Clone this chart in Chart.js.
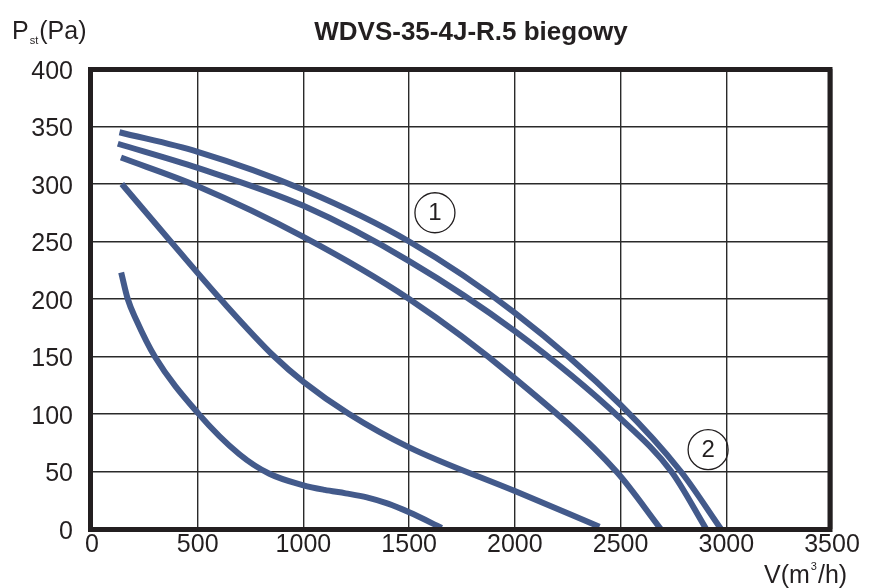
<!DOCTYPE html>
<html>
<head>
<meta charset="utf-8">
<title>WDVS-35-4J-R.5 biegowy</title>
<script src="https://cdn.jsdelivr.net/npm/chart.js"></script>
<style>
    body { margin: 0; background: #fff; }
    #chart { display: block; }
</style>
</head>
<body>
<canvas id="chart" width="869" height="588"></canvas>
<script>
// Fan curves (V in m3/h, Pst in Pa)
const speed1X = [130, 500, 1000, 1500, 2000, 2500, 2785, 2975];
const speed1Y = [345, 328, 295, 250, 188, 108, 50, 0];

const speed2X = [122, 500, 1000, 1500, 2000, 2500, 2740, 2905];
const speed2Y = [335, 314, 281, 233, 172, 96, 50, 0];

const speed3X = [137, 500, 1000, 1500, 2000, 2480, 2690];
const speed3Y = [323, 298, 254, 200, 131, 50, 0];

const speed4X = [141, 400, 617, 862, 1000, 1216, 1500, 2000, 2400];
const speed4Y = [300, 244, 198, 150, 128, 100, 71, 33, 2];

const speed5X = [138, 169, 209, 297, 500, 697, 839, 1000, 1100, 1200, 1300, 1400, 1500, 1654];
const speed5Y = [223, 200, 182, 150, 101, 65, 48, 38, 34, 31, 27.5, 22, 14.5, 1];

const curvesX = [speed1X, speed2X, speed3X, speed4X, speed5X];
const curvesY = [speed1Y, speed2Y, speed3Y, speed4Y, speed5Y];

// Axis ticks
const xTicks = [0, 500, 1000, 1500, 2000, 2500, 3000, 3500];
const yTicks = [0, 50, 100, 150, 200, 250, 300, 350, 400];

// Circled markers (data coordinates)
const markerText = ['1', '2'];
const markerX = [1622, 2914];
const markerY = [275, 69];

const titleText = 'WDVS-35-4J-R.5 biegowy';
const ink = '#231f20';
const curveColor = '#435a8b';
const fontFamily = '"Liberation Sans", Arial, sans-serif';

const datasets = curvesX.map((xs, i) => ({
    data: xs.map((x, j) => ({ x: x, y: curvesY[i][j] })),
    showLine: true,
    borderColor: curveColor,
    borderWidth: 6,
    borderCapStyle: 'butt',
    pointRadius: 0,
    cubicInterpolationMode: 'monotone',
    fill: false
}));

// Frame, title, axis names and circled numbers
const decorPlugin = {
    id: 'decor',
    afterDraw(chart) {
        const { ctx, chartArea, scales } = chart;
        ctx.save();

        // thick frame around the plot
        ctx.strokeStyle = ink;
        ctx.lineWidth = 5;
        ctx.strokeRect(chartArea.left - 1.5, chartArea.top + 0.5,
            chartArea.right - chartArea.left - 0.5, chartArea.bottom - chartArea.top);

        ctx.fillStyle = ink;
        ctx.textBaseline = 'alphabetic';

        // title
        ctx.font = 'bold 26px ' + fontFamily;
        ctx.textAlign = 'center';
        ctx.fillText(titleText, 471, 40);

        // y axis name: P_st(Pa)
        ctx.textAlign = 'left';
        let x = 12;
        ctx.font = '25px ' + fontFamily;
        ctx.fillText('P', x, 39);
        x += ctx.measureText('P').width + 1;
        ctx.font = '11px ' + fontFamily;
        ctx.fillText('st', x, 44);
        x += ctx.measureText('st').width + 1;
        ctx.font = '25px ' + fontFamily;
        ctx.fillText('(Pa)', x, 39);

        // x axis name: V(m3/h)
        x = 764;
        ctx.font = '25px ' + fontFamily;
        ctx.fillText('V(m', x, 583);
        x += ctx.measureText('V(m').width + 1;
        ctx.font = '11px ' + fontFamily;
        ctx.fillText('3', x, 570);
        x += ctx.measureText('3').width + 1;
        ctx.font = '25px ' + fontFamily;
        ctx.fillText('/h)', x, 583);

        // circled curve numbers
        ctx.lineWidth = 1.3;
        ctx.textAlign = 'center';
        ctx.textBaseline = 'middle';
        ctx.font = '24px ' + fontFamily;
        markerText.forEach((t, i) => {
            const cx = scales.x.getPixelForValue(markerX[i]);
            const cy = scales.y.getPixelForValue(markerY[i]);
            ctx.beginPath();
            ctx.arc(cx, cy, 20, 0, Math.PI * 2);
            ctx.stroke();
            ctx.fillText(t, cx, cy + 1);
        });

        ctx.restore();
    }
};

new Chart(document.getElementById('chart'), {
    type: 'scatter',
    data: { datasets: datasets },
    plugins: [decorPlugin],
    options: {
        responsive: false,
        animation: false,
        devicePixelRatio: 1,
        layout: {
            padding: { top: 69, right: 37, left: 0, bottom: 0 }
        },
        plugins: {
            legend: { display: false },
            tooltip: { enabled: false }
        },
        scales: {
            x: {
                type: 'linear',
                min: xTicks[0],
                max: xTicks[xTicks.length - 1],
                afterBuildTicks: (scale) => {
                    scale.ticks = xTicks.map(v => ({ value: v }));
                },
                afterFit: (scale) => {
                    scale.height = 59;
                },
                grid: {
                    color: '#2a2a2a',
                    lineWidth: 1.4,
                    drawTicks: false
                },
                border: { display: false },
                ticks: {
                    padding: 1,
                    color: ink,
                    font: { family: fontFamily, size: 25 },
                    maxRotation: 0,
                    autoSkip: false,
                    callback: (value) => String(value)
                }
            },
            y: {
                type: 'linear',
                min: yTicks[0],
                max: yTicks[yTicks.length - 1],
                afterBuildTicks: (scale) => {
                    scale.ticks = yTicks.map(v => ({ value: v }));
                },
                afterFit: (scale) => {
                    scale.width = 92;
                },
                grid: {
                    color: '#2a2a2a',
                    lineWidth: 1.4,
                    drawTicks: false
                },
                border: { display: false },
                ticks: {
                    padding: 19,
                    labelOffset: 3,
                    color: ink,
                    font: { family: fontFamily, size: 25 },
                    autoSkip: false,
                    callback: (value) => String(value)
                }
            }
        }
    }
});
</script>
</body>
</html>
